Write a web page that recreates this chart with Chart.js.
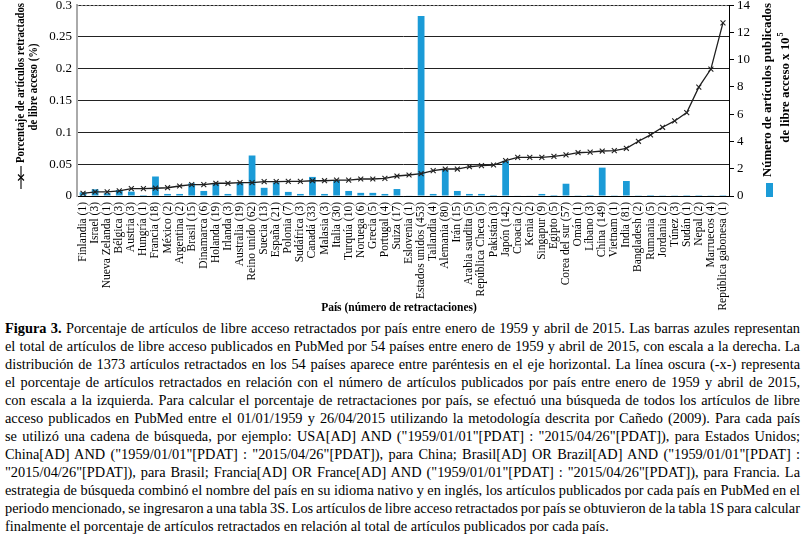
<!DOCTYPE html>
<html>
<head>
<meta charset="utf-8">
<script src="https://cdn.jsdelivr.net/npm/chart.js@4.4.1/dist/chart.umd.min.js"></script>
<style>
  body { margin: 0; background: #fff; width: 805px; height: 535px; overflow: hidden; position: relative; }
  #chart { position: absolute; left: 0; top: 0; }
  #caption { position: absolute; left: 5px; top: 319px; width: 795px; font-family: "Liberation Serif", "Times New Roman", serif; font-size: 14px; color: #000; }
  #caption div { height: 18px; line-height: 18px; text-align: justify; text-align-last: justify; }
  #caption div.last { text-align-last: left; }
  #caption.measure div { white-space: nowrap; }
</style>
</head>
<body>
<canvas id="chart" width="805" height="318"></canvas>
<div id="caption" class="measure">
  <div><span><b>Figura 3.</b> Porcentaje de artículos de libre acceso retractados por país entre enero de 1959 y abril de 2015. Las barras azules representan</span></div>
  <div><span>el total de artículos de libre acceso publicados en PubMed por 54 países entre enero de 1959 y abril de 2015, con escala a la derecha. La</span></div>
  <div><span>distribución de 1373 artículos retractados en los 54 países aparece entre paréntesis en el eje horizontal. La línea oscura (-x-) representa</span></div>
  <div><span>el porcentaje de artículos retractados en relación con el número de artículos publicados por país entre enero de 1959 y abril de 2015,</span></div>
  <div><span>con escala a la izquierda. Para calcular el porcentaje de retractaciones por país, se efectuó una búsqueda de todos los artículos de libre</span></div>
  <div><span>acceso publicados en PubMed entre el 01/01/1959 y 26/04/2015 utilizando la metodología descrita por Cañedo (2009). Para cada país</span></div>
  <div><span>se utilizó una cadena de búsqueda, por ejemplo: USA[AD] AND ("1959/01/01"[PDAT] : "2015/04/26"[PDAT]), para Estados Unidos;</span></div>
  <div><span>China[AD] AND ("1959/01/01"[PDAT] : "2015/04/26"[PDAT]), para China; Brasil[AD] OR Brazil[AD] AND ("1959/01/01"[PDAT] :</span></div>
  <div><span>"2015/04/26"[PDAT]), para Brasil; Francia[AD] OR France[AD] AND ("1959/01/01"[PDAT] : "2015/04/26"[PDAT]), para Francia. La</span></div>
  <div><span>estrategia de búsqueda combinó el nombre del país en su idioma nativo y en inglés, los artículos publicados por cada país en PubMed en el</span></div>
  <div><span>periodo mencionado, se ingresaron a una tabla 3S. Los artículos de libre acceso retractados por país se obtuvieron de la tabla 1S para calcular</span></div>
  <div class="last"><span>finalmente el porcentaje de artículos retractados en relación al total de artículos publicados por cada país.</span></div>
</div>
<script>
// ---------------- DATA ----------------
const countries = [
  "Finlandia (1)", "Israel (3)", "Nueva Zelanda (1)", "Bélgica (3)", "Austria (3)", "Hungría (1)",
  "Francia (18)", "México (2)", "Argentina (2)", "Brasil (15)", "Dinamarca (6)", "Holanda (19)",
  "Irlanda (3)", "Australia (19)", "Reino unido (62)", "Suecia (13)", "España (21)", "Polonia (7)",
  "Sudáfrica (3)", "Canadá (33)", "Malasia (3)", "Italia (30)", "Turquía (10)", "Noruega (6)",
  "Grecia (5)", "Portugal (4)", "Suiza (17)", "Eslovenia (1)", "Estados unidos (453)", "Tailandia (4)",
  "Alemania (80)", "Irán (15)", "Arabia saudita (5)", "República Checa (5)", "Pakistán (3)", "Japón (142)",
  "Croacia (2)", "Kenia (2)", "Singapur (9)", "Egipto (5)", "Corea del sur (57)", "Omán (1)",
  "Líbano (3)", "China (149)", "Vietnam (1)", "India (81)", "Bangladesh (2)", "Rumania (5)",
  "Jordania (2)", "Túnez (3)", "Sudán (1)", "Nepal (2)", "Marruecos (4)", "República gabonesa (1)"
];

// open access articles published, x 10^5 (right axis)
const publishedArticles = [
  0.27, 0.49, 0.2, 0.44, 0.32, 0.07,
  1.43, 0.15, 0.15, 0.93, 0.37, 0.93,
  0.15, 0.96, 2.97, 0.6, 1.0, 0.3,
  0.15, 1.4, 0.15, 1.15, 0.37, 0.23,
  0.23, 0.15, 0.51, 0.03, 13.2, 0.15,
  1.91, 0.37, 0.15, 0.15, 0.07, 2.58,
  0.03, 0.03, 0.15, 0.07, 0.9, 0.02,
  0.07, 2.08, 0.02, 1.1, 0.02, 0.07,
  0.02, 0.02, 0.01, 0.01, 0.02, 0.01
];

// % of retracted open access articles (left axis)
const retractedPercent = [
  0.004, 0.0065, 0.0065, 0.008, 0.0115, 0.0115,
  0.0122, 0.013, 0.0157, 0.018, 0.018, 0.02,
  0.02, 0.021, 0.021, 0.0225, 0.0225, 0.023,
  0.023, 0.024, 0.024, 0.025, 0.025, 0.0267,
  0.0267, 0.0278, 0.0314, 0.033, 0.035, 0.0398,
  0.0424, 0.0424, 0.046, 0.0477, 0.0487, 0.0555,
  0.0608, 0.0608, 0.0608, 0.0624, 0.0647, 0.068,
  0.069, 0.0707, 0.0712, 0.075, 0.086, 0.096,
  0.108, 0.118, 0.131, 0.171, 0.1995, 0.272
];

const leftTitle = ["Porcentaje de artículos retractados", "de libre acceso (%)"];
const rightTitle = ["Número de artículos publicados", "de libre acceso x 10"];
const xTitle = "País (número de retractaciones)";

const SERIF = '"Liberation Serif", "Times New Roman", serif';
const BLUE = "#1b9bd7";

Chart.defaults.font.family = SERIF;
Chart.defaults.color = "#000";

// ---------------- HELPERS ----------------
// text rotated to read bottom-to-top, squeezed by k along the baseline
function rotText(ctx, text, x, y, k) {
  ctx.save();
  ctx.translate(x, y);
  ctx.rotate(-Math.PI / 2);
  ctx.scale(k, 1);
  ctx.fillText(text, 0, 0);
  ctx.restore();
}

function drawCross(ctx, x, y, r) {
  ctx.beginPath();
  ctx.moveTo(x - r, y - r); ctx.lineTo(x + r, y + r);
  ctx.moveTo(x + r, y - r); ctx.lineTo(x - r, y + r);
  ctx.stroke();
}

// titles + legend keys drawn beside the axes
const sideTitles = {
  id: "sideTitles",
  afterDraw(chart) {
    const ctx = chart.ctx;
    const area = chart.chartArea;
    ctx.save();
    ctx.fillStyle = "#000";
    ctx.textAlign = "center";
    ctx.textBaseline = "middle";
    ctx.font = "bold 12.5px " + SERIF;

    // left title with line key
    const kl = 160 / ctx.measureText(leftTitle[0]).width;
    rotText(ctx, leftTitle[0], 21, 83, kl);
    rotText(ctx, leftTitle[1], 34, 87, kl);
    ctx.strokeStyle = "#000";
    ctx.lineWidth = 1.1;
    ctx.beginPath();
    ctx.moveTo(21, 166);
    ctx.lineTo(21, 189);
    ctx.stroke();
    drawCross(ctx, 21, 177.5, 3);

    // right title with bar key
    const kr = 174 / ctx.measureText(rightTitle[0]).width;
    rotText(ctx, rightTitle[0], 768, 90, kr);
    ctx.save();
    ctx.translate(786, 87);
    ctx.rotate(-Math.PI / 2);
    ctx.scale(kr, 1);
    const w = ctx.measureText(rightTitle[1]).width;
    ctx.textAlign = "left";
    ctx.fillText(rightTitle[1], -w / 2 - 3, 0);
    ctx.font = "bold 8px " + SERIF;
    ctx.fillText("5", w / 2 - 2, -5);
    ctx.restore();
    ctx.fillStyle = BLUE;
    ctx.fillRect(766, 183, 7, 14);

    // x title
    ctx.fillStyle = "#000";
    ctx.font = "bold 11.5px " + SERIF;
    ctx.fillText(xTitle, 399, 308);

    // dotted top border
    ctx.strokeStyle = "#888";
    ctx.lineWidth = 1;
    ctx.setLineDash([2, 2]);
    ctx.beginPath();
    ctx.moveTo(area.left, area.top + 0.5);
    ctx.lineTo(area.right, area.top + 0.5);
    ctx.stroke();
    ctx.restore();
  }
};

// ---------------- CHART ----------------
new Chart(document.getElementById("chart"), {
  data: {
    labels: countries,
    datasets: [
      {
        type: "line",
        label: "Porcentaje",
        data: retractedPercent,
        yAxisID: "y",
        borderColor: "#1e1e1e",
        borderWidth: 1.3,
        pointStyle: "crossRot",
        pointRadius: 3.5,
        pointBorderColor: "#222",
        pointBorderWidth: 1.1,
        tension: 0,
      },
      {
        type: "bar",
        label: "Artículos",
        data: publishedArticles,
        yAxisID: "y1",
        backgroundColor: BLUE,
        barPercentage: 0.56,
        categoryPercentage: 1,
      },
    ],
  },
  options: {
    responsive: false,
    animation: false,
    layout: { padding: { top: 5, left: 0, right: 0, bottom: 0 } },
    plugins: { legend: { display: false }, tooltip: { enabled: false } },
    scales: {
      x: {
        grid: { display: false, drawTicks: false },
        border: { color: "#000", width: 1 },
        ticks: { autoSkip: false, maxRotation: 90, minRotation: 90, padding: 6, font: { size: 11.5 }, color: "#000" },
        afterFit(s) { s.height = 122; s.paddingLeft = 0; s.paddingRight = 0; },
      },
      y: {
        position: "left",
        min: 0,
        max: 0.3,
        ticks: {
          stepSize: 0.05,
          padding: 5,
          font: { size: 13 },
          color: "#000",
          callback: (v) => String(+Number(v).toFixed(2)),
        },
        grid: { color: "#222", lineWidth: 1, drawTicks: false },
        border: { color: "#aaa", width: 2 },
        afterFit(s) { s.width = 77; s.paddingTop = 0; s.paddingBottom = 0; },
      },
      y1: {
        position: "right",
        min: 0,
        max: 14,
        ticks: { stepSize: 2, padding: 3, font: { size: 13 }, color: "#000" },
        grid: { drawOnChartArea: false, drawTicks: true, tickLength: 5, color: "#000" },
        border: { color: "#000", width: 1 },
        afterFit(s) { s.width = 76; s.paddingTop = 0; s.paddingBottom = 0; },
      },
    },
  },
  plugins: [sideTitles],
});

// ---------------- CAPTION FIT ----------------
// size the font so the last line is as long as in the print, then tighten
// word spacing on lines that would overflow, and justify
const caption = document.getElementById("caption");
const capLines = [...caption.querySelectorAll("div")];
const spanW = (d) => d.firstElementChild.getBoundingClientRect().width;
const lastW = spanW(capLines[capLines.length - 1]);
caption.style.fontSize = (14 * 604 / lastW).toFixed(2) + "px";
capLines.forEach((d) => {
  const span = d.firstElementChild;
  const w = spanW(d);
  const gaps = (span.textContent.match(/ /g) || []).length;
  if (w > 793 && gaps) {
    span.style.wordSpacing = ((793 - w) / gaps) + "px";
  }
});
caption.classList.remove("measure");
</script>
</body>
</html>
